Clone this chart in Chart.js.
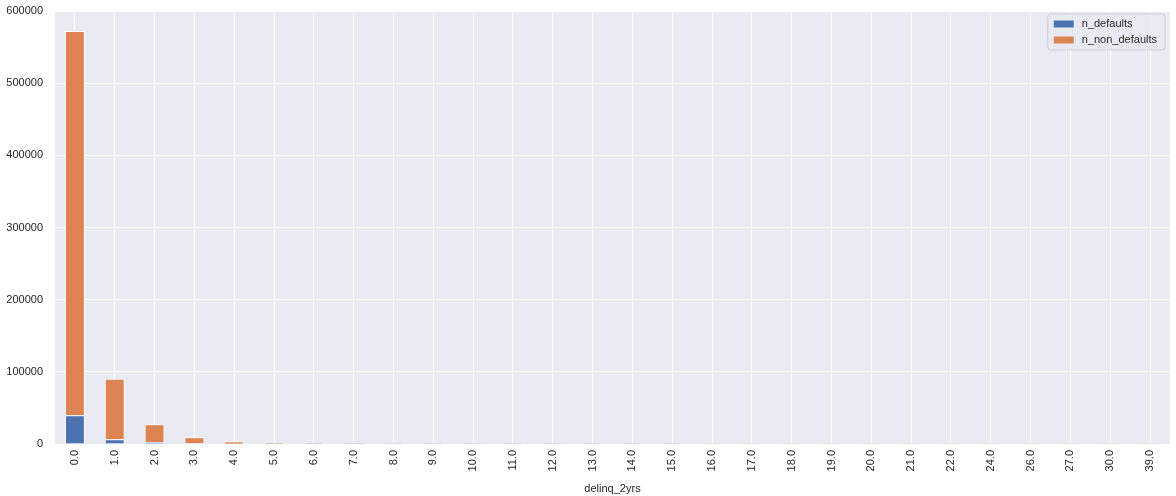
<!DOCTYPE html>
<html>
<head>
<meta charset="utf-8">
<script src="https://cdn.jsdelivr.net/npm/chart.js@4/dist/chart.umd.min.js"></script>
<style>
html,body{margin:0;padding:0;background:#fff;}
#wrap{width:1176px;height:496px;position:relative;}
</style>
</head>
<body>
<div id="wrap"><canvas id="c"></canvas></div>
<script>
const categories = ["0.0","1.0","2.0","3.0","4.0","5.0","6.0","7.0","8.0","9.0","10.0","11.0","12.0","13.0","14.0","15.0","16.0","17.0","18.0","19.0","20.0","21.0","22.0","24.0","26.0","27.0","30.0","39.0"];
const nDefaults = [39800, 6500, 2800, 1000, 400, 200, 90, 50, 30, 10, 8, 5, 3, 2, 1, 1, 0, 0, 0, 0, 0, 0, 0, 0, 0, 0, 0, 0];
const nNonDefaults = [532500, 84000, 24500, 8300, 3300, 1700, 810, 450, 270, 140, 82, 55, 37, 23, 14, 9, 8, 5, 4, 3, 2, 2, 1, 1, 1, 1, 1, 1];
const yTicks = [0, 100000, 200000, 300000, 400000, 500000, 600000];
const xTitle = "delinq_2yrs";

const FONT = "'Liberation Sans', Arial, sans-serif";
const TXT = '#262626';

const insideLegend = {
  id: 'insideLegend',
  afterDraw(chart) {
    const ctx = chart.ctx, a = chart.chartArea;
    const items = chart.data.datasets;
    ctx.save();
    ctx.font = '11px ' + FONT;
    let maxW = 0;
    items.forEach(d => { maxW = Math.max(maxW, ctx.measureText(d.label).width); });
    const boxW = 8 + 20 + 8 + maxW + 6;
    const rowH = 16;
    const boxH = items.length * rowH + 4;
    const x = a.right - 5 - boxW, y = a.top + 3;
    const r = 3;
    ctx.beginPath();
    ctx.moveTo(x + r, y);
    ctx.lineTo(x + boxW - r, y); ctx.quadraticCurveTo(x + boxW, y, x + boxW, y + r);
    ctx.lineTo(x + boxW, y + boxH - r); ctx.quadraticCurveTo(x + boxW, y + boxH, x + boxW - r, y + boxH);
    ctx.lineTo(x + r, y + boxH); ctx.quadraticCurveTo(x, y + boxH, x, y + boxH - r);
    ctx.lineTo(x, y + r); ctx.quadraticCurveTo(x, y, x + r, y);
    ctx.closePath();
    ctx.fillStyle = 'rgba(234,234,242,0.8)';
    ctx.fill();
    ctx.strokeStyle = '#cccccc';
    ctx.lineWidth = 1;
    ctx.stroke();
    items.forEach((d, i) => {
      const cy = y + 2 + i * rowH + rowH / 2;
      ctx.fillStyle = d.backgroundColor;
      ctx.fillRect(x + 6, cy - 3.5, 20, 7);
      ctx.fillStyle = TXT;
      ctx.textBaseline = 'middle';
      ctx.textAlign = 'left';
      ctx.fillText(d.label, x + 6 + 20 + 8, cy);
    });
    ctx.restore();
  }
};

const bgPlugin = {
  id: 'bgPlugin',
  beforeDraw(chart) {
    const ctx = chart.ctx, a = chart.chartArea;
    ctx.save();
    ctx.fillStyle = '#EAEAF2';
    ctx.fillRect(a.left, a.top, a.right - a.left, a.bottom - a.top);
    ctx.restore();
  }
};

new Chart(document.getElementById('c'), {
  type: 'bar',
  data: {
    labels: categories,
    datasets: [
      { label: 'n_defaults', data: nDefaults, backgroundColor: '#4C72B0', borderColor: '#ffffff', borderWidth: 1, categoryPercentage: 1.0, barPercentage: 0.5 },
      { label: 'n_non_defaults', data: nNonDefaults, backgroundColor: '#DD8452', borderColor: '#ffffff', borderWidth: 1, categoryPercentage: 1.0, barPercentage: 0.5 }
    ]
  },
  options: {
    responsive: true,
    maintainAspectRatio: false,
    animation: false,
    layout: { padding: { top: 11, right: 6, left: 0, bottom: 0 } },
    plugins: { legend: { display: false }, tooltip: { enabled: false } },
    scales: {
      x: {
        stacked: true,
        grid: { color: '#ffffff', lineWidth: 1, drawTicks: false, offset: false },
        border: { display: false },
        ticks: { color: TXT, font: { family: FONT, size: 11 }, minRotation: 90, maxRotation: 90, padding: 6, autoSkip: false },
        title: { display: true, text: xTitle, color: TXT, font: { family: FONT, size: 11 }, padding: { top: 1, bottom: 0 } },
        afterFit(s) { s.height = 52; s.paddingLeft = 0; s.paddingRight = 0; }
      },
      y: {
        stacked: true,
        min: 0, max: 600000,
        afterBuildTicks(s) { s.ticks = yTicks.map(v => ({ value: v })); },
        grid: { color: '#ffffff', lineWidth: 1, drawTicks: false },
        border: { display: false },
        ticks: { color: TXT, font: { family: FONT, size: 11 }, padding: 12, callback: v => String(v) },
        afterFit(s) { s.width = 55; s.paddingTop = 0; s.paddingBottom = 0; }
      }
    }
  },
  plugins: [bgPlugin, insideLegend]
});
</script>
</body>
</html>
